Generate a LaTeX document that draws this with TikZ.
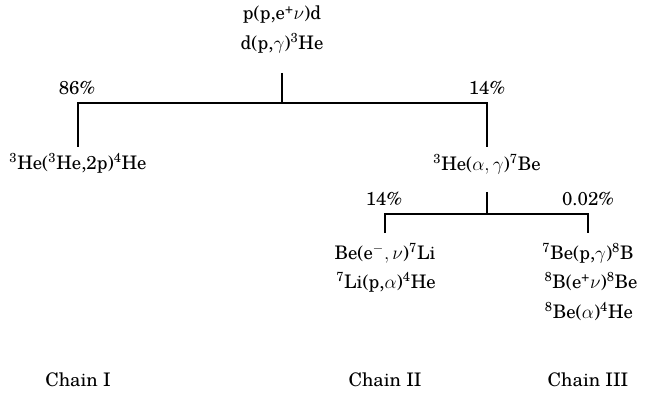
\documentclass[tikz,border=0pt]{standalone}
\usepackage{fontspec}
\setmainfont{TeX Gyre Schola}
\tikzset{
  lbl/.style={inner sep=0pt, anchor=center, font=\fontsize{14}{16}\selectfont},
  link/.style={draw=black, line width=0.9pt}
}
\newcommand{\sps}[1]{\textsuperscript{#1}}
\begin{document}
\begin{tikzpicture}[x=0.75pt,y=-0.75pt]
\useasboundingbox (0,0) rectangle (646,399);
% texts
\node[lbl] (pp1) at (282,15) {p(p,e\sps{+}$\nu$)d};
\node[lbl] (pp2) at (282,43) {d(p,$\gamma$)\sps{3}He};
\node[lbl] (p86) at (77,88) {86\%};
\node[lbl] (p14a) at (487,88) {14\%};
\node[lbl] (c1) at (78,163) {\sps{3}He(\sps{3}He,2p)\sps{4}He};
\node[lbl] (he) at (487,164) {\sps{3}He($\alpha,\gamma$)\sps{7}Be};
\node[lbl] (p14b) at (384,199) {14\%};
\node[lbl] (p002) at (588,199) {0.02\%};
\node[lbl] (be1) at (385,253) {Be(e\sps{$-$}$,\nu$)\sps{7}Li};
\node[lbl] (be2) at (386,282) {\sps{7}Li(p,$\alpha$)\sps{4}He};
\node[lbl] (b1) at (588,253) {\sps{7}Be(p,$\gamma$)\sps{8}B};
\node[lbl] (b2) at (591,282) {\sps{8}B(e\sps{+}$\nu$)\sps{8}Be};
\node[lbl] (b3) at (589,312) {\sps{8}Be($\alpha$)\sps{4}He};
\node[lbl] (ch1) at (78,380) {Chain I};
\node[lbl] (ch2) at (385,380) {Chain II};
\node[lbl] (ch3) at (588,380) {Chain III};
% junctions
\coordinate (t0) at (282,73);
\coordinate (j0) at (282,103);
\coordinate (jl) at (78,103);
\coordinate (jr) at (487,103);
\coordinate (el) at (78,147);
\coordinate (er) at (487,147);
\coordinate (t1) at (487,192);
\coordinate (j1) at (487,214);
\coordinate (kl) at (385,214);
\coordinate (kr) at (588,214);
\coordinate (fl) at (385,233);
\coordinate (fr) at (588,233);
% connectors
\draw[link] (t0) -- (j0);
\draw[link] (el) -- (jl) -- (jr) -- (er);
\draw[link] (t1) -- (j1);
\draw[link] (fl) -- (kl) -- (kr) -- (fr);
\end{tikzpicture}
\end{document}
